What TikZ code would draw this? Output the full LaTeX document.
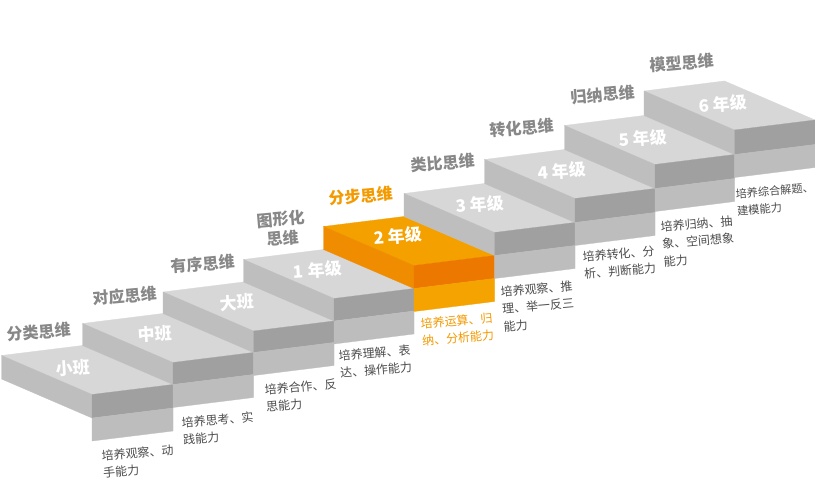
\documentclass[tikz,border=0pt]{standalone}
\usepackage{fontspec}
\setmainfont{Noto Sans CJK SC}
\definecolor{topG}{HTML}{D7D7D7}
\definecolor{leftG}{HTML}{BEBEBE}
\definecolor{frontG}{HTML}{A0A0A0}
\definecolor{lowG}{HTML}{BDBDBD}
\definecolor{topO}{HTML}{F4A100}
\definecolor{leftO}{HTML}{F08C00}
\definecolor{frontO}{HTML}{ED7800}
\definecolor{lowO}{HTML}{F5A300}
\definecolor{thinkG}{HTML}{888888}
\definecolor{descG}{HTML}{4D4D4D}
\definecolor{orangeT}{HTML}{F39A00}
\newcommand{\stairstep}[9]{%
 \coordinate (#1FL) at (#2,#4);
 \coordinate (#1FR) at (#3,{#4-10});
 \coordinate (#1BL) at ({#2-90.5},{#4-39});
 \coordinate (#1BR) at ({#3-90.5},{#4-49});
 \coordinate (#1LB) at (#2,#5);
 \coordinate (#1LBB) at ({#2-90.5},{#5-39});
 \coordinate (#1RB) at (#3,{#5-10});
 \coordinate (#1LL) at (#2,{#5+23});
 \coordinate (#1RL) at (#3,{#5+13});
 \filldraw[face,fill=#6,draw=#6] (#1BL)--(#1BR)--(#1FR)--(#1FL)--cycle;
 \filldraw[face,fill=#7,draw=#7] (#1BL)--(#1FL)--(#1LB)--(#1LBB)--cycle;
 \filldraw[face,fill=#8,draw=#8] (#1FL)--(#1FR)--(#1RB)--(#1LB)--cycle;
 \filldraw[face,fill=#9,draw=#9] (#1LB)--(#1RB)--(#1RL)--(#1LL)--cycle;
}
\begin{document}
\begin{tikzpicture}[x=1pt,y=-1pt,
  face/.style={line width=0.3pt,line join=round},
  steplabel/.style={text=white,font=\bfseries\fontsize{17}{20}\selectfont,inner sep=0pt,rotate=4},
  thinklabel/.style={text=thinkG,font=\bfseries\fontsize{16}{19}\selectfont,inner sep=0pt,rotate=5,align=center},
  desc/.style={text=descG,font=\fontsize{12}{17.5}\selectfont,inner sep=0pt,rotate=5,align=left,anchor=north west}]
\useasboundingbox[fill=white] (0,0) rectangle (815,478);
% steps
\stairstep{s0}{92}{173}{394.5}{418}{topG}{leftG}{frontG}{lowG}
\stairstep{s1}{173}{253.5}{362.5}{384.5}{topG}{leftG}{frontG}{lowG}
\stairstep{s2}{253.5}{334}{331}{352.5}{topG}{leftG}{frontG}{lowG}
\stairstep{s3}{334}{414}{298.5}{321}{topG}{leftG}{frontG}{lowG}
\stairstep{s4}{414}{494.5}{265.5}{288.5}{topO}{leftO}{frontO}{lowO}
\stairstep{s5}{494.5}{575}{232.5}{255.5}{topG}{leftG}{frontG}{lowG}
\stairstep{s6}{575}{655}{198.5}{222.5}{topG}{leftG}{frontG}{lowG}
\stairstep{s7}{655}{734.5}{164.5}{188.5}{topG}{leftG}{frontG}{lowG}
\stairstep{s8}{734.5}{815}{130}{154.5}{topG}{leftG}{frontG}{lowG}
% step labels
\node[steplabel] (l0) at (73,368) {小班};
\node[steplabel] (l1) at (155,334) {中班};
\node[steplabel] (l2) at (237,302.5) {大班};
\node[steplabel] (l3) at (317.5,270) {1 年级};
\node[steplabel] (l4) at (398,236) {2 年级};
\node[steplabel] (l5) at (480,204.5) {3 年级};
\node[steplabel] (l6) at (562,171) {4 年级};
\node[steplabel] (l7) at (643,138.5) {5 年级};
\node[steplabel] (l8) at (723,104) {6 年级};
% thinking labels
\node[thinklabel] (t0) at (39,332) {分类思维};
\node[thinklabel] (t1) at (125,296) {对应思维};
\node[thinklabel] (t2) at (203,264) {有序思维};
\node[thinklabel] (t3) at (282,228.5) {图形化\\思维};
\node[thinklabel,text=orangeT] (t4) at (361,196) {分步思维};
\node[thinklabel] (t5) at (443,163) {类比思维};
\node[thinklabel] (t6) at (522,128) {转化思维};
\node[thinklabel] (t7) at (603,95) {归纳思维};
\node[thinklabel] (t8) at (682,63) {模型思维};
% descriptions
\node[desc] (d0) at (101,450) {培养观察、动\\手能力};
\node[desc] (d1) at (181,417) {培养思考、实\\践能力};
\node[desc] (d2) at (264,384) {培养合作、反\\思能力};
\node[desc] (d3) at (338,350) {培养理解、表\\达、操作能力};
\node[desc,text=orangeT] (d4) at (420,318) {培养运算、归\\纳、分析能力};
\node[desc] (d5) at (500,286) {培养观察、推\\理、举一反三\\能力};
\node[desc] (d6) at (582,251) {培养转化、分\\析、判断能力};
\node[desc] (d7) at (660,221) {培养归纳、抽\\象、空间想象\\能力};
\node[desc,font=\fontsize{11.2}{17}\selectfont] (d8) at (735,189) {培养综合解题、\\建模能力};
\end{tikzpicture}
\end{document}
